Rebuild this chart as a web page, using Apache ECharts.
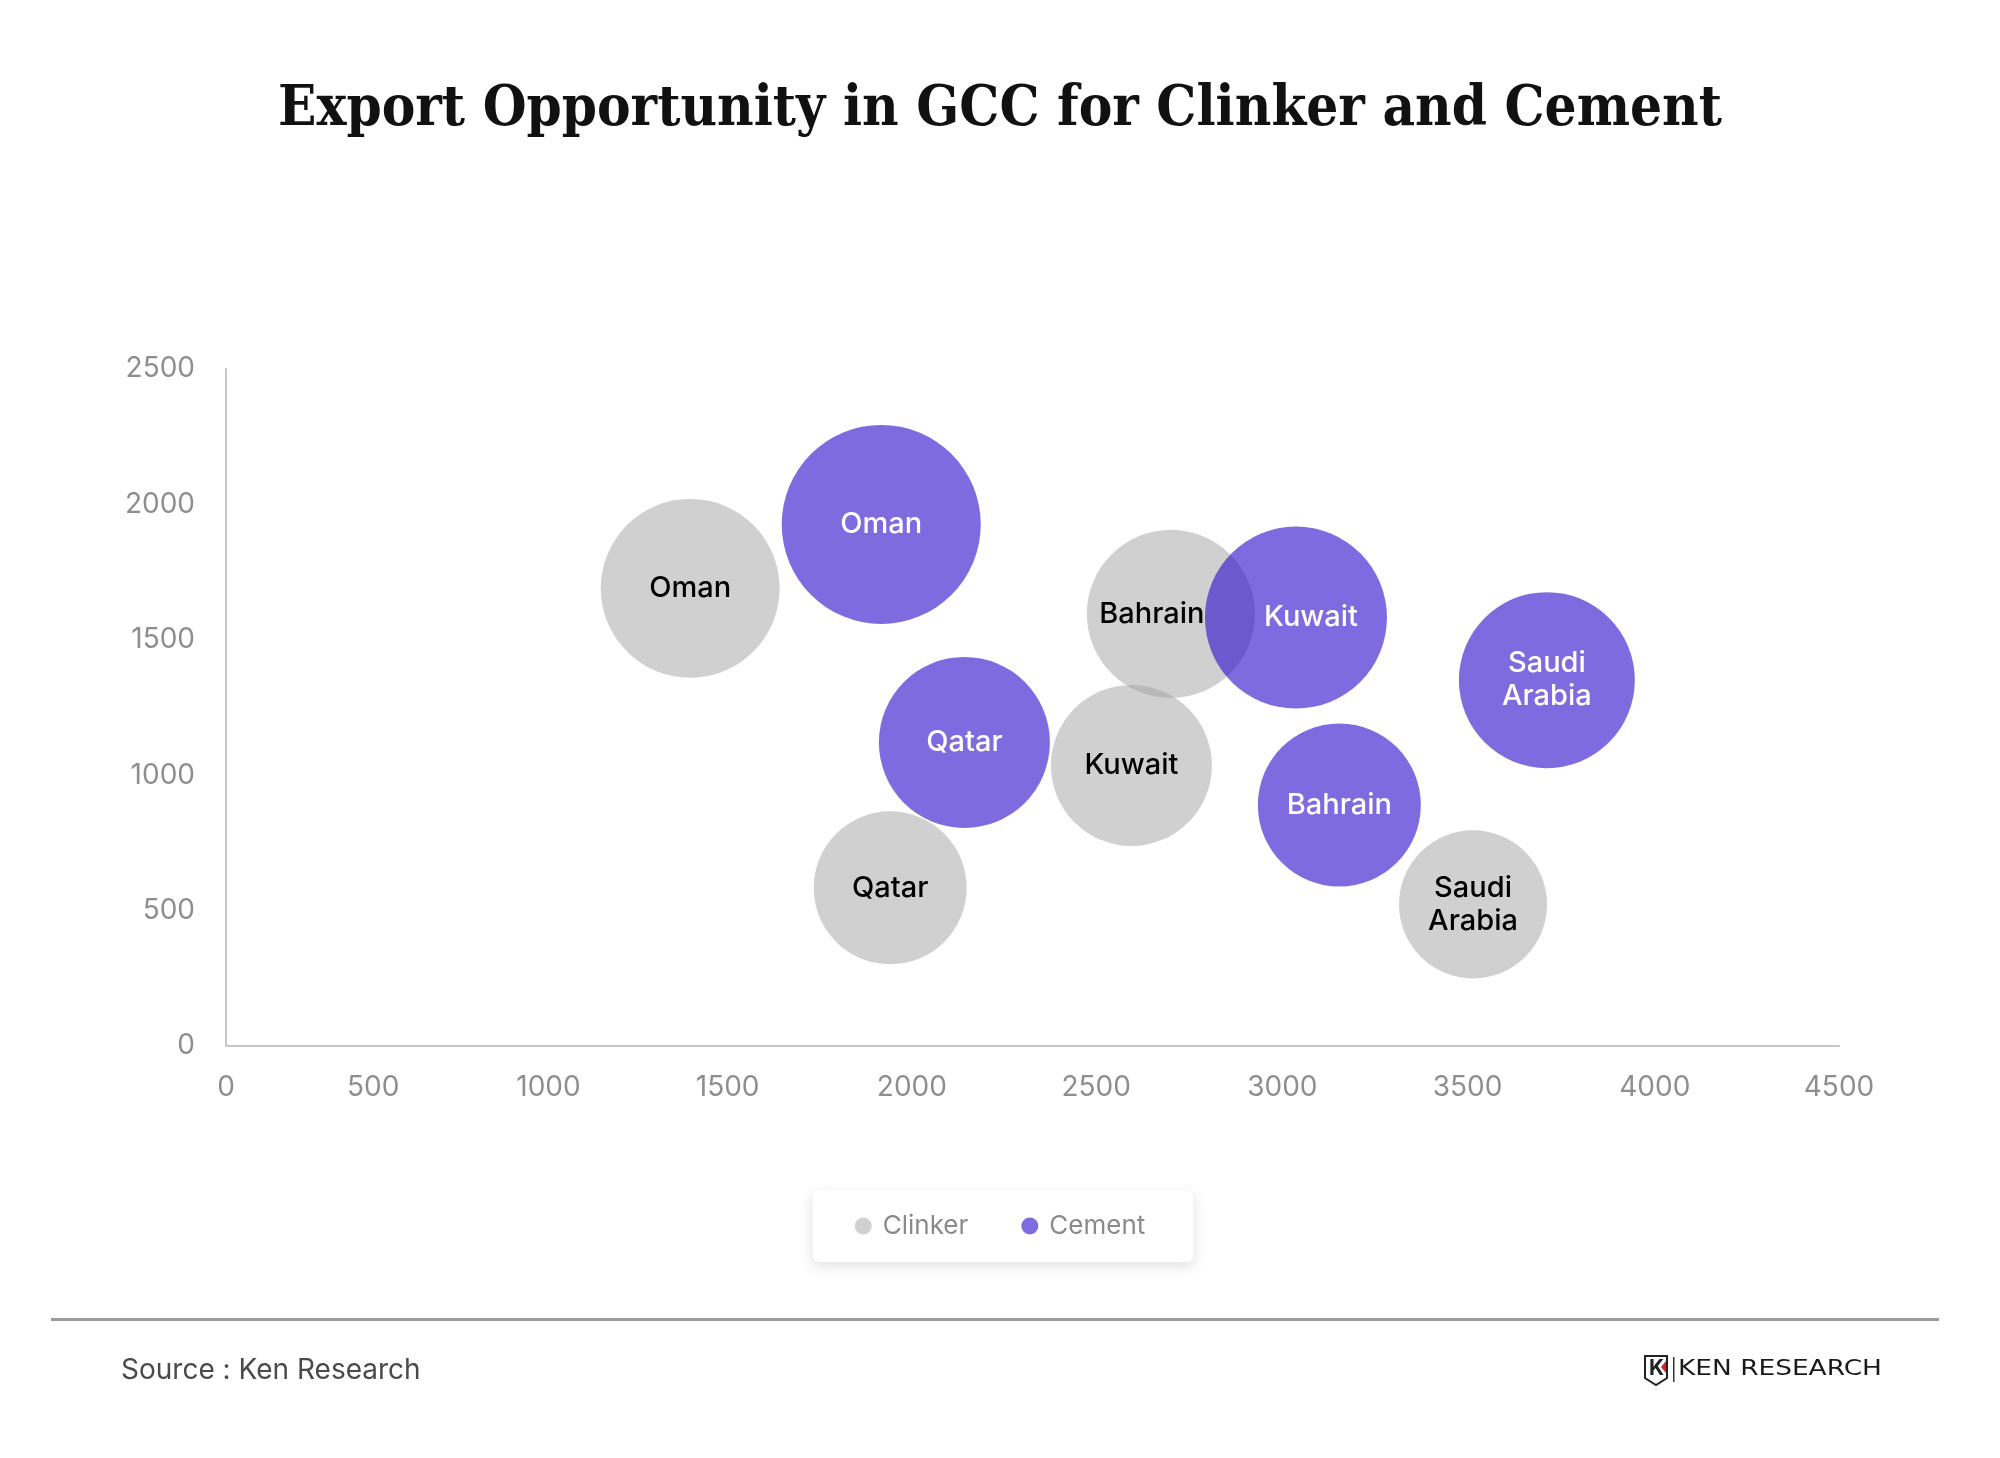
<!DOCTYPE html>
<html>
<head>
<meta charset="utf-8">
<script src="https://cdn.jsdelivr.net/npm/echarts@6/dist/echarts.min.js"></script>
<style>
html,body{margin:0;padding:0;background:#fff;}
#chart{width:2000px;height:1458px;}
</style>
</head>
<body>
<div id="chart"></div>
<script>
// ---- data ----
const countries = ['Oman', 'Qatar', 'Kuwait', 'Bahrain', 'Saudi Arabia'];
const clinkerX = [1295, 1853, 2526, 2636, 3479];
const clinkerY = [1690, 584, 1036, 1596, 523];
const clinkerVolume = [800, 585, 648, 706, 548];
const cementX = [1828, 2060, 2985, 3106, 3685];
const cementY = [1926, 1121, 1582, 890, 1351];
const cementVolume = [990, 731, 828, 664, 774];
const seriesNames = ['Clinker', 'Cement'];
const xTickLabels = ['0', '500', '1000', '1500', '2000', '2500', '3000', '3500', '4000', '4500'];
const yTickLabels = ['0', '500', '1000', '1500', '2000', '2500'];
const xTicks = { min: 0, max: 4500, interval: 500 };
const yTicks = { min: 0, max: 2500, interval: 500 };

// ---- styling (kept separate from data) ----
const labelOffsets = {
  'Clinker|Bahrain': [-19, 0],
  'Cement|Kuwait': [15, 0]
};
// horizontal nudge (px, negative = left) of each x tick label, as in the reference
const xLabelShift = [0, -32, -36, -36, -31, -26, -19, -13, -5, 0];
const FONT = 'Inter, "Noto Sans", sans-serif';
const AXIS_COLOR = '#8e8e8e';

const xRich = {};
xLabelShift.forEach((s, i) => {
  xRich['s' + i] = {
    color: AXIS_COLOR, fontSize: 28, fontFamily: FONT,
    padding: s < 0 ? [0, -2 * s, 0, 0] : [0, 0, 0, 2 * s]
  };
});

function buildData(seriesName, xs, ys, vols) {
  return countries.map((c, i) => {
    const off = labelOffsets[seriesName + '|' + c];
    const item = { name: c, value: [xs[i], ys[i], vols[i]] };
    if (off) item.label = { offset: off };
    return item;
  });
}
const sizeFn = v => 2 * Math.sqrt(10 * v[2]);

const chart = echarts.init(document.getElementById('chart'), null, { renderer: 'canvas' });
const option = {
  backgroundColor: '#ffffff',
  animation: false,
  title: {
    text: 'Export Opportunity in GCC for Clinker and Cement',
    left: 'center',
    top: 77,
    textStyle: {
      fontFamily: '"DejaVu Serif Condensed", "Liberation Serif", serif',
      fontWeight: 'bold',
      fontSize: 56,
      color: '#111111'
    }
  },
  grid: { left: 226, right: 161, top: 369, bottom: 412, containLabel: false },
  xAxis: {
    type: 'value',
    min: xTicks.min, max: xTicks.max, interval: xTicks.interval,
    axisLine: { show: true, lineStyle: { color: '#c6c6c6', width: 2 } },
    axisTick: { show: false },
    splitLine: { show: false },
    axisLabel: {
      color: AXIS_COLOR, fontSize: 28, fontFamily: FONT, margin: 28,
      formatter: (v) => {
        const i = Math.round((v - xTicks.min) / xTicks.interval);
        return '{s' + i + '|' + xTickLabels[i] + '}';
      },
      rich: xRich
    }
  },
  yAxis: {
    type: 'value',
    min: yTicks.min, max: yTicks.max, interval: yTicks.interval,
    axisLine: { show: true, lineStyle: { color: '#c6c6c6', width: 2 } },
    axisTick: { show: false },
    splitLine: { show: false },
    axisLabel: {
      color: AXIS_COLOR, fontSize: 28, fontFamily: FONT, margin: 31,
      padding: [6, 0, 0, 0],
      formatter: (v) => yTickLabels[Math.round((v - yTicks.min) / yTicks.interval)]
    }
  },
  legend: {
    data: seriesNames,
    left: 'center',
    top: 1190,
    icon: 'circle',
    itemWidth: 29,
    itemHeight: 17,
    itemGap: 53,
    padding: [23, 48, 23, 42],
    backgroundColor: '#ffffff',
    borderRadius: 6,
    shadowBlur: 14,
    shadowColor: 'rgba(0,0,0,0.13)',
    shadowOffsetY: 4,
    textStyle: { color: '#8a8a8a', fontSize: 26, fontFamily: FONT }
  },
  series: [
    {
      name: seriesNames[0],
      type: 'scatter',
      data: buildData('Clinker', clinkerX, clinkerY, clinkerVolume),
      symbolSize: sizeFn,
      itemStyle: { color: 'rgba(161,161,161,0.5)', opacity: 1 },
      label: {
        show: true, position: 'inside',
        formatter: p => p.name.replace(' ', '\n'),
        color: '#000000', fontSize: 29, fontWeight: 500, lineHeight: 33, fontFamily: FONT
      },
      emphasis: { disabled: true }
    },
    {
      name: seriesNames[1],
      type: 'scatter',
      data: buildData('Cement', cementX, cementY, cementVolume),
      symbolSize: sizeFn,
      itemStyle: { color: 'rgba(47,16,203,0.62)', opacity: 1 },
      label: {
        show: true, position: 'inside',
        formatter: p => p.name.replace(' ', '\n'),
        color: '#ffffff', fontSize: 29, fontWeight: 500, lineHeight: 33, fontFamily: FONT
      },
      emphasis: { disabled: true }
    }
  ],
  graphic: [
    {
      type: 'rect',
      shape: { x: 51, y: 1318, width: 1888, height: 3 },
      style: { fill: '#9b9b9b' }
    },
    {
      type: 'text',
      left: 121, top: 1357,
      style: { text: 'Source : Ken Research', fontSize: 28, fontFamily: FONT, fill: '#4a4a4a' }
    },
    // logo
    {
      type: 'polygon',
      shape: { points: [[1645, 1356], [1667, 1356], [1667, 1378], [1656, 1385], [1645, 1378]] },
      style: { fill: 'none', stroke: '#222222', lineWidth: 2 }
    },
    {
      type: 'text',
      x: 1649, y: 1358,
      style: { text: 'K', fontSize: 21, fontWeight: 'bold', fontFamily: FONT, fill: '#222222' }
    },
    {
      type: 'polygon',
      shape: { points: [[1661, 1367], [1666, 1361], [1666, 1373]] },
      style: { fill: '#d2232a' }
    },
    {
      type: 'rect',
      shape: { x: 1673, y: 1357, width: 1.5, height: 25 },
      style: { fill: '#333333' }
    },
    {
      type: 'text',
      x: 1678, y: 1358,
      scaleX: 1.2,
      style: { text: 'KEN RESEARCH', fontSize: 22, fontFamily: '"DejaVu Sans", sans-serif', fill: '#1a1a1a' }
    }
  ]
};
chart.setOption(option);
</script>
</body>
</html>
